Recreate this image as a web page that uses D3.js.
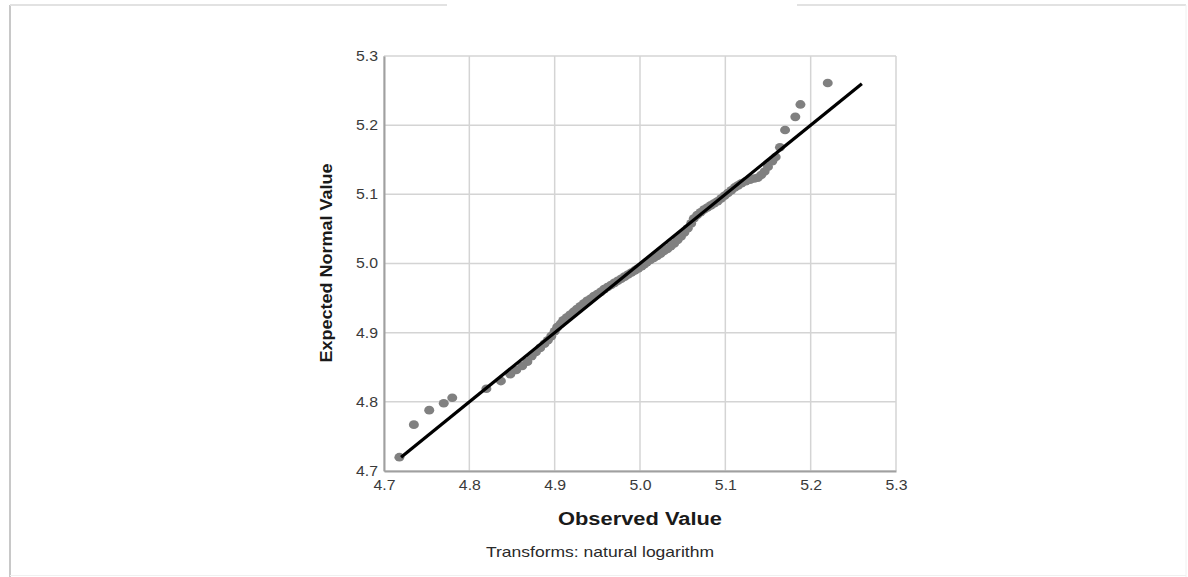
<!DOCTYPE html>
<html>
<head>
<meta charset="utf-8">
<script src="https://cdn.jsdelivr.net/npm/d3@7"></script>
<style>
  body { margin: 0; background: #fff; }
  svg { display: block; font-family: "Liberation Sans", Arial, sans-serif; }
</style>
</head>
<body>
<svg id="chart" width="1188" height="577"></svg>
<script>
// Normal Q-Q plot
const observed = [
  4.718, 4.735, 4.753, 4.770, 4.780, 4.820, 4.837, 4.848, 4.855, 4.862,
  4.868, 4.873, 4.878, 4.883, 4.888, 4.892, 4.896, 4.900, 4.903, 4.907,
  4.910, 4.914, 4.918, 4.922, 4.926, 4.930, 4.934, 4.938, 4.942, 4.946,
  4.950, 4.954, 4.958, 4.962, 4.966, 4.970, 4.974, 4.978, 4.982, 4.986,
  4.990, 4.994, 4.998, 5.002, 5.005, 5.008, 5.012, 5.016, 5.020, 5.024,
  5.028, 5.032, 5.036, 5.040, 5.044, 5.048, 5.052, 5.056, 5.060, 5.063,
  5.067, 5.071, 5.075, 5.079, 5.083, 5.087, 5.091, 5.095, 5.099, 5.103,
  5.107, 5.111, 5.115, 5.119, 5.124, 5.129, 5.134, 5.138, 5.142, 5.146,
  5.150, 5.155, 5.159, 5.164, 5.170, 5.182, 5.188, 5.220
];
const expected = [
  4.720, 4.767, 4.788, 4.798, 4.806, 4.819, 4.830, 4.840, 4.846, 4.852,
  4.858, 4.866, 4.872, 4.878, 4.884, 4.889, 4.895, 4.902, 4.908, 4.913,
  4.918, 4.922, 4.926, 4.930, 4.934, 4.938, 4.942, 4.946, 4.949, 4.953,
  4.956, 4.959, 4.963, 4.966, 4.969, 4.972, 4.975, 4.978, 4.981, 4.984,
  4.987, 4.990, 4.993, 4.996, 4.999, 5.002, 5.005, 5.008, 5.011, 5.014,
  5.018, 5.021, 5.025, 5.029, 5.034, 5.039, 5.045, 5.051, 5.058, 5.065,
  5.070, 5.074, 5.078, 5.081, 5.084, 5.087, 5.090, 5.094, 5.098, 5.102,
  5.106, 5.110, 5.113, 5.116, 5.119, 5.121, 5.123, 5.124, 5.128, 5.133,
  5.140, 5.148, 5.154, 5.168, 5.193, 5.212, 5.230, 5.261
];
const refLine = [4.72, 5.26];
const tickValues = [4.7, 4.8, 4.9, 5.0, 5.1, 5.2, 5.3];

const svg = d3.select("#chart");

// outer frame of the pasted picture
const frame = svg.append("g").attr("fill", "none");
frame.append("line").attr("x1", 10).attr("y1", 5).attr("x2", 10).attr("y2", 577)
  .attr("stroke", "#c8c8c8").attr("stroke-width", 2);
frame.append("line").attr("x1", 10).attr("y1", 5).attr("x2", 447).attr("y2", 5)
  .attr("stroke", "#e2e2e2").attr("stroke-width", 2);
frame.append("line").attr("x1", 797).attr("y1", 5).attr("x2", 1186).attr("y2", 5)
  .attr("stroke", "#e2e2e2").attr("stroke-width", 2);
frame.append("line").attr("x1", 1186).attr("y1", 5).attr("x2", 1186).attr("y2", 577)
  .attr("stroke", "#f0f0f0").attr("stroke-width", 1);
frame.append("line").attr("x1", 10).attr("y1", 575.5).attr("x2", 1186).attr("y2", 575.5)
  .attr("stroke", "#f0f0f0").attr("stroke-width", 1);

const plotLeft = 384, plotRight = 896, plotTop = 56, plotBottom = 471;
const x = d3.scaleLinear().domain([4.7, 5.3]).range([plotLeft, plotRight]);
const y = d3.scaleLinear().domain([4.7, 5.3]).range([plotBottom, plotTop]);

// gridlines
const grid = svg.append("g").attr("stroke", "#d4d4d4").attr("stroke-width", 1.5);
tickValues.forEach(v => {
  grid.append("line").attr("x1", x(v)).attr("x2", x(v)).attr("y1", plotTop).attr("y2", plotBottom);
  grid.append("line").attr("x1", plotLeft).attr("x2", plotRight).attr("y1", y(v)).attr("y2", y(v));
});

// axes
const xAxis = svg.append("g")
  .attr("transform", `translate(0,${plotBottom})`)
  .call(d3.axisBottom(x).tickValues(tickValues).tickFormat(d3.format(".1f")).tickSize(0).tickPadding(9));
const yAxis = svg.append("g")
  .attr("transform", `translate(${plotLeft},0)`)
  .call(d3.axisLeft(y).tickValues(tickValues).tickFormat(d3.format(".1f")).tickSize(0).tickPadding(6));
[xAxis, yAxis].forEach(a => {
  a.select(".domain").attr("stroke", "#a0a0a0").attr("stroke-width", 2);
  // the source picture is stretched sideways, so widen the labels a bit
  a.selectAll("text").attr("fill", "#3a3a3a").style("font-size", "14px")
    .style("font-family", "'Liberation Sans', Arial, sans-serif")
    .attr("textLength", 22).attr("lengthAdjust", "spacingAndGlyphs");
});

// points
const pts = observed.map((o, i) => ({ o: o, e: expected[i] }));
svg.append("g").selectAll("ellipse").data(pts).join("ellipse")
  .attr("cx", d => x(d.o))
  .attr("cy", d => y(d.e))
  .attr("rx", 5)
  .attr("ry", 4.3)
  .attr("fill", "#808080");

// reference line
svg.append("line")
  .attr("x1", x(refLine[0])).attr("y1", y(refLine[0]))
  .attr("x2", x(refLine[1])).attr("y2", y(refLine[1]))
  .attr("stroke", "#000").attr("stroke-width", 3.2);

// titles
svg.append("text")
  .attr("transform", "translate(332,263) rotate(-90)")
  .attr("text-anchor", "middle")
  .attr("font-weight", "bold")
  .attr("font-size", 17)
  .attr("fill", "#1a1a1a")
  .attr("textLength", 199).attr("lengthAdjust", "spacingAndGlyphs")
  .text("Expected Normal Value");

svg.append("text")
  .attr("x", 640).attr("y", 525)
  .attr("text-anchor", "middle")
  .attr("font-weight", "bold")
  .attr("font-size", 18)
  .attr("fill", "#1a1a1a")
  .attr("textLength", 164).attr("lengthAdjust", "spacingAndGlyphs")
  .text("Observed Value");

svg.append("text")
  .attr("x", 600).attr("y", 557)
  .attr("text-anchor", "middle")
  .attr("font-size", 14.5)
  .attr("fill", "#2a2a2a")
  .attr("textLength", 228).attr("lengthAdjust", "spacingAndGlyphs")
  .text("Transforms: natural logarithm");
</script>
</body>
</html>
